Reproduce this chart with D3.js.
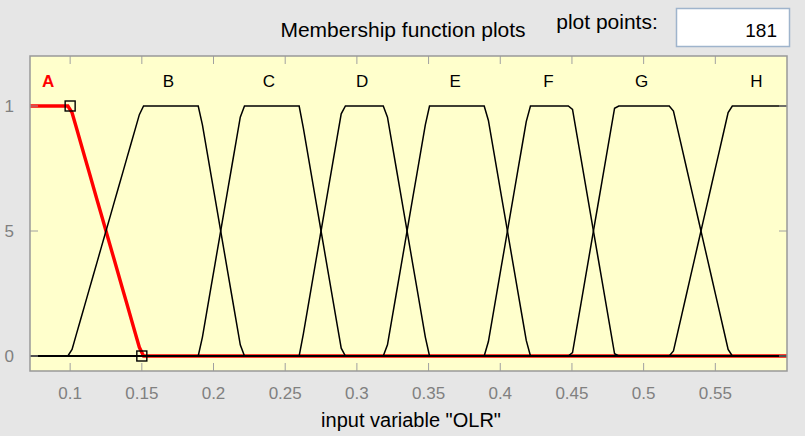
<!DOCTYPE html>
<html>
<head>
<meta charset="utf-8">
<script src="https://cdn.jsdelivr.net/npm/d3@7"></script>
<style>
  body{margin:0;background:#e6e6e6;}
  svg text{font-family:"Liberation Sans",Arial,sans-serif;}
</style>
</head>
<body>
<svg id="chart" width="805" height="436"></svg>
<script>
// membership functions of input variable "OLR" (trapmf params a b c d)
var mfNames = ["A","B","C","D","E","F","G","H"];
var mfParams = [
  [0.02,0.05,0.10,0.15],
  [0.10,0.15,0.19,0.22],
  [0.19,0.22,0.26,0.29],
  [0.26,0.29,0.32,0.35],
  [0.32,0.35,0.39,0.42],
  [0.39,0.42,0.45,0.48],
  [0.45,0.48,0.52,0.56],
  [0.52,0.56,0.60,0.65]
];
var selectedMf = 0;
var inputRange = [0.072,0.6];
var plotPoints = 181;
var xTickVals = [0.1,0.15,0.2,0.25,0.3,0.35,0.4,0.45,0.5,0.55];
var yTickVals = [0,0.5,1];
var yLimits = [-0.06,1.2];

(function(){
var svg = d3.select("#chart");
var pl = 30, pr = 787, pt = 56, pb = 371;

var x = d3.scaleLinear().domain(inputRange).range([pl,pr]);
var y = d3.scaleLinear().domain(yLimits).range([pb,pt]);

function trapmf(v,p){
  var a=p[0],b=p[1],c=p[2],d=p[3];
  var up = b===a ? (v>=a?1:0) : (v-a)/(b-a);
  var down = d===c ? (v<=d?1:0) : (d-v)/(d-c);
  return Math.max(0,Math.min(up,1,down));
}

var xs = d3.range(plotPoints).map(function(i){
  return inputRange[0] + i*(inputRange[1]-inputRange[0])/(plotPoints-1);
});

// header
svg.append("text").attr("x",403).attr("y",37).attr("text-anchor","middle")
  .style("font-size","21px").attr("fill","#000").text("Membership function plots");
svg.append("text").attr("x",607).attr("y",29).attr("text-anchor","middle")
  .style("font-size","21px").attr("fill","#000").text("plot points:");
svg.append("rect").attr("x",676.5).attr("y",8.5).attr("width",113).attr("height",38)
  .attr("fill","#fff").attr("stroke","#9fb4cc").attr("stroke-width",1.5);
svg.append("text").attr("x",777).attr("y",37).attr("text-anchor","end")
  .style("font-size","19px").attr("fill","#000").text(plotPoints);

// axes background
svg.append("rect").attr("x",pl).attr("y",pt).attr("width",pr-pl).attr("height",pb-pt)
  .attr("fill","#ffffcc");

svg.append("clipPath").attr("id","plotclip")
  .append("rect").attr("x",pl).attr("y",pt).attr("width",pr-pl).attr("height",pb-pt);

var g = svg.append("g").attr("clip-path","url(#plotclip)");

var line = d3.line().x(function(d){return x(d[0]);}).y(function(d){return y(d[1]);});

function mfPoints(p){
  return xs.map(function(v){ return [v,trapmf(v,p)]; });
}

// selected mf in red, drawn underneath the others
g.append("path").datum(mfPoints(mfParams[selectedMf]))
  .attr("d",line).attr("fill","none").attr("stroke","#ff0000").attr("stroke-width",3.4);

g.selectAll("path.mf").data(mfParams.filter(function(p,i){ return i!==selectedMf; }))
  .enter().append("path")
  .attr("class","mf")
  .attr("d",function(p){ return line(mfPoints(p)); })
  .attr("fill","none").attr("stroke","#000").attr("stroke-width",1.5);

// shoulder markers of selected mf
var sel = mfParams[selectedMf];
var markers = [[sel[2],1],[sel[3],0]];
g.selectAll("rect.mk").data(markers).enter().append("rect")
  .attr("class","mk")
  .attr("x",function(d){return x(d[0])-5;}).attr("y",function(d){return y(d[1])-5;})
  .attr("width",10).attr("height",10)
  .attr("fill","none").attr("stroke","#000").attr("stroke-width",1.4);

// mf labels
svg.selectAll("text.mfl").data(mfParams).enter().append("text")
  .attr("class","mfl")
  .attr("x",function(p){
    var c0 = Math.max(p[1],inputRange[0]), c1 = Math.min(p[2],inputRange[1]);
    return x((c0+c1)/2) - 2;
  })
  .attr("y",y(1.1)).attr("dy","0.35em").attr("text-anchor","middle")
  .style("font-size","17px")
  .style("font-weight",function(p,i){ return i===selectedMf ? "bold" : "normal"; })
  .attr("fill",function(p,i){ return i===selectedMf ? "#ff0000" : "#000"; })
  .text(function(p,i){ return mfNames[i]; });

// ticks
var tickColor = "#a0a0a0";
var xt = svg.append("g");
xTickVals.forEach(function(v){
  xt.append("line").attr("x1",x(v)).attr("x2",x(v)).attr("y1",pb).attr("y2",pb-8)
    .attr("stroke",tickColor);
  xt.append("line").attr("x1",x(v)).attr("x2",x(v)).attr("y1",pt).attr("y2",pt+8)
    .attr("stroke",tickColor);
  xt.append("text").attr("x",x(v)).attr("y",399).attr("text-anchor","middle")
    .style("font-size","17px").attr("fill","#808080").text(d3.format("")(v));
});

svg.append("clipPath").attr("id","ylabclip")
  .append("rect").attr("x",4).attr("y",0).attr("width",30).attr("height",436);
var yt = svg.append("g");
var ytl = svg.append("g").attr("clip-path","url(#ylabclip)");
yTickVals.forEach(function(v){
  yt.append("line").attr("x1",pl).attr("x2",pl+8).attr("y1",y(v)).attr("y2",y(v))
    .attr("stroke",tickColor);
  yt.append("line").attr("x1",pr).attr("x2",pr-8).attr("y1",y(v)).attr("y2",y(v))
    .attr("stroke",tickColor);
  ytl.append("text").attr("x",14).attr("y",y(v)).attr("dy","0.35em").attr("text-anchor","end")
    .style("font-size","17px").attr("fill","#808080").text(d3.format("")(v));
});

svg.append("rect").attr("x",pl).attr("y",pt).attr("width",pr-pl).attr("height",pb-pt)
  .attr("fill","none").attr("stroke","#999").attr("stroke-width",1.5);

// x label
svg.append("text").attr("x",411).attr("y",427).attr("text-anchor","middle")
  .style("font-size","20px").attr("fill","#000").text('input variable "OLR"');
})();
</script>
</body>
</html>
